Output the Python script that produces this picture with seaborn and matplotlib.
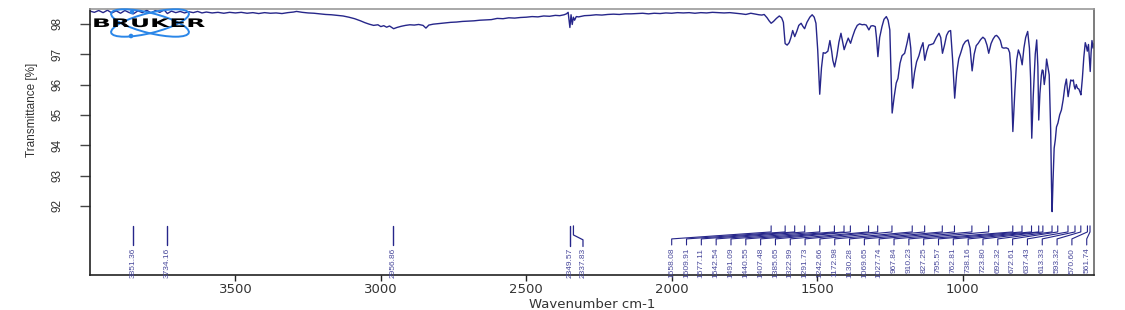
import numpy as np
import pandas as pd
import matplotlib
matplotlib.use("Agg")
import matplotlib.pyplot as plt
import seaborn as sns
from matplotlib.patches import Ellipse, Circle
from matplotlib import patheffects
from matplotlib.transforms import Affine2D

# ---------------- data ----------------
wavenumber = [
    4000, 3985, 3970, 3955, 3940, 3925, 3910, 3895, 3880, 3865, 3851, 3835, 3820, 3805, 3790,
    3775, 3760, 3745, 3734, 3720, 3705, 3690, 3675, 3660, 3645, 3630, 3615, 3600, 3580, 3560,
    3540, 3520, 3500, 3480, 3460, 3440, 3420, 3400, 3380, 3360, 3340, 3320, 3300, 3290, 3270,
    3250, 3230, 3210, 3190, 3170, 3150, 3130, 3110, 3090, 3070, 3055, 3040, 3025, 3010, 3000,
    2990, 2980, 2970, 2956, 2945, 2930, 2915, 2900, 2885, 2870, 2855, 2845, 2835, 2820, 2800,
    2780, 2760, 2740, 2720, 2700, 2680, 2660, 2640, 2620, 2600, 2580, 2560, 2540, 2520, 2500,
    2480, 2460, 2440, 2420, 2400, 2385, 2370, 2362, 2356, 2350, 2346, 2342, 2338, 2334, 2328,
    2320, 2300, 2280, 2260, 2240, 2220, 2200, 2180, 2160, 2140, 2120, 2100, 2080, 2060, 2040,
    2020, 2000, 1980, 1960, 1940, 1920, 1900, 1880, 1860, 1840, 1820, 1800, 1780, 1760, 1745,
    1728, 1712, 1700, 1690, 1682, 1672, 1665, 1658, 1650, 1640, 1630, 1622, 1616, 1610, 1603,
    1596, 1590, 1584, 1577, 1570, 1563, 1555, 1549, 1543, 1535, 1525, 1517, 1510, 1504, 1498,
    1491, 1485, 1479, 1472, 1463, 1456, 1450, 1446, 1440, 1432, 1425, 1418, 1412, 1407, 1400,
    1393, 1385, 1378, 1370, 1362, 1354, 1345, 1338, 1331, 1322, 1315, 1308, 1300, 1296, 1291,
    1285, 1277, 1270, 1262, 1256, 1250, 1242, 1235, 1228, 1222, 1215, 1208, 1199, 1190, 1184,
    1178, 1172, 1165, 1158, 1150, 1143, 1136, 1130, 1123, 1116, 1108, 1100, 1090, 1081, 1075,
    1069, 1062, 1055, 1048, 1041, 1034, 1027, 1020, 1013, 1006, 998, 990, 981, 974, 967,
    960, 953, 946, 938, 930, 923, 916, 910, 902, 895, 888, 883, 876, 870, 864,
    858, 850, 843, 838, 833, 827, 820, 814, 808, 801, 795, 789, 783, 776, 770,
    766, 762, 757, 750, 745, 741, 738, 734, 729, 726, 723, 719, 715, 711, 707,
    702, 697, 694, 692, 689, 685, 681, 677, 672, 666, 660, 654, 648, 643, 640,
    637, 633, 628, 623, 619, 616, 613, 609, 605, 600, 596, 593, 588, 583, 578,
    574, 571, 567, 564, 561, 558, 555, 551, 548,
]
transmittance = [
    98.42, 98.38, 98.44, 98.37, 98.45, 98.36, 98.43, 98.35, 98.44, 98.37, 98.33, 98.43, 98.37, 98.45, 98.36,
    98.44, 98.38, 98.46, 98.34, 98.42, 98.37, 98.41, 98.36, 98.40, 98.37, 98.41, 98.36, 98.39, 98.36, 98.38,
    98.35, 98.38, 98.36, 98.38, 98.35, 98.37, 98.34, 98.37, 98.35, 98.36, 98.34, 98.37, 98.39, 98.41, 98.38,
    98.36, 98.35, 98.33, 98.31, 98.30, 98.28, 98.26, 98.22, 98.17, 98.10, 98.04, 97.99, 97.95, 97.97, 97.91,
    97.94, 97.89, 97.93, 97.84, 97.88, 97.92, 97.95, 97.97, 97.96, 97.98, 97.95, 97.86, 97.96, 97.99, 98.01,
    98.03, 98.05, 98.06, 98.08, 98.09, 98.10, 98.12, 98.13, 98.14, 98.18, 98.17, 98.20, 98.19, 98.21, 98.22,
    98.24, 98.23, 98.26, 98.25, 98.28, 98.27, 98.30, 98.33, 98.38, 97.88, 98.30, 97.98, 98.22, 98.12, 98.24,
    98.23, 98.27, 98.28, 98.30, 98.29, 98.31, 98.32, 98.31, 98.33, 98.33, 98.34, 98.35, 98.33, 98.35, 98.34,
    98.36, 98.35, 98.37, 98.36, 98.37, 98.35, 98.37, 98.36, 98.38, 98.37, 98.36, 98.37, 98.35, 98.33, 98.31,
    98.35, 98.32, 98.30, 98.29, 98.31, 98.20, 98.10, 98.02, 98.08, 98.18, 98.26, 98.20, 98.05, 97.35, 97.30,
    97.38, 97.55, 97.78, 97.58, 97.75, 97.95, 98.02, 97.92, 97.84, 98.05, 98.22, 98.30, 98.22, 98.02, 97.15,
    95.68, 96.55, 97.05, 97.03, 97.10, 97.45, 97.10, 96.80, 96.58, 96.95, 97.40, 97.69, 97.40, 97.15, 97.35,
    97.53, 97.36, 97.58, 97.80, 97.95, 98.00, 97.97, 97.98, 97.96, 97.80, 97.93, 97.94, 97.91, 97.55, 96.92,
    97.55, 97.91, 98.15, 98.24, 98.12, 97.80, 95.06, 95.60, 96.05, 96.20, 96.70, 96.95, 97.03, 97.40, 97.69,
    97.20, 95.88, 96.40, 96.75, 96.95, 97.20, 97.38, 96.80, 97.10, 97.30, 97.32, 97.35, 97.55, 97.69, 97.55,
    97.03, 97.30, 97.62, 97.75, 97.78, 96.80, 95.55, 96.40, 96.85, 97.05, 97.30, 97.42, 97.47, 97.20, 96.45,
    97.00, 97.28, 97.36, 97.48, 97.56, 97.50, 97.30, 97.03, 97.35, 97.50, 97.60, 97.62, 97.55, 97.45, 97.22,
    97.20, 97.21, 97.18, 97.05, 96.40, 94.45, 95.80, 96.80, 97.14, 96.95, 96.65, 97.20, 97.55, 97.75, 97.20,
    96.20, 94.23, 95.60, 97.00, 97.47, 96.60, 94.83, 95.70, 96.30, 96.48, 96.46, 96.00, 96.30, 96.84, 96.60,
    96.32, 94.50, 92.60, 91.81, 92.80, 93.90, 94.18, 94.60, 94.73, 95.00, 95.16, 95.50, 95.95, 96.18, 95.90,
    95.60, 95.85, 96.15, 96.12, 96.15, 95.95, 95.85, 96.00, 95.88, 95.85, 95.75, 95.66, 96.20, 96.90, 97.38,
    97.25, 97.10, 97.32, 96.90, 96.43, 97.05, 97.45, 97.20, 97.35,
]

peaks_sparse = [3851.36, 3734.16, 2956.86, 2349.57]
peak_2337 = 2337.83
peaks_dense = [1658.08, 1609.91, 1577.11, 1542.54, 1491.09, 1440.55, 1407.48, 1385.65,
               1322.99, 1291.73, 1242.66, 1172.98, 1130.28, 1069.65, 1027.74, 967.84,
               910.23, 827.25, 795.57, 762.81, 738.16, 723.80, 692.32, 672.61, 637.43,
               613.33, 593.32, 570.60, 561.74]

x_ticks = [3500, 3000, 2500, 2000, 1500, 1000]
x_tick_labels = ["3500", "3000", "2500", "2000", "1500", "1000"]
y_ticks = [92, 93, 94, 95, 96, 97, 98]


class HStretch(patheffects.AbstractPathEffect):
    """Stretch text glyphs horizontally (text stays a Text artist)."""
    def __init__(self, sx):
        super().__init__()
        self.sx = sx

    def draw_path(self, renderer, gc, tpath, affine, rgbFace=None):
        renderer.draw_path(gc, tpath, Affine2D().scale(self.sx, 1.0) + affine, rgbFace)


# ---------------- style ----------------
sns.set_theme(style="white")
narrow = ["Liberation Sans Narrow", "Liberation Sans", "DejaVu Sans"]
plt.rcParams["font.family"] = ["DejaVu Sans"]

line_col = "#26268a"
lab_col = "#4a4a9c"

fig = plt.figure(figsize=(11.25, 3.10), dpi=100)
W, H = 1125, 310
ax = fig.add_axes([90 / W, 35 / H, 1004 / W, 266 / H])

df = pd.DataFrame({"wavenumber": wavenumber, "transmittance": transmittance})
sns.lineplot(data=df, x="wavenumber", y="transmittance", ax=ax, color=line_col,
             lw=1.0, estimator=None, sort=False)

ax.set_xlim(4000, 548)
ax.set_ylim(89.72, 98.49)

# ---------------- peak labels ----------------
y_top, y_mid1, y_mid2, y_bot, y_txt = 91.34, 91.14, 90.91, 90.71, 90.62
for p in peaks_sparse:
    bot = 90.66 if p == 2349.57 else y_bot
    ax.plot([p, p], [y_top, bot], color=line_col, lw=1.0)
    ax.text(p, y_txt, f"{p:.2f}", rotation=90, ha="center", va="top",
            fontsize=6.0, color=lab_col, family=narrow)
lx2337 = 2305
ax.plot([peak_2337, peak_2337, lx2337, lx2337], [y_top, 91.04, 90.88, 90.66],
        color=line_col, lw=0.9)
ax.text(lx2337, y_txt, f"{peak_2337:.2f}", rotation=90, ha="center", va="top",
        fontsize=6.0, color=lab_col, family=narrow)

label_pos = np.linspace(2000, 573, len(peaks_dense))
for p, lx in zip(peaks_dense, label_pos):
    ax.plot([p, p, lx, lx], [y_top, y_mid1, y_mid2, y_bot], color=line_col, lw=0.8)
    ax.text(lx, y_txt, f"{p:.2f}", rotation=90, ha="center", va="top",
            fontsize=6.0, color=lab_col, family=narrow)

# ---------------- axes styling ----------------
ax.set_xticks(x_ticks)
ax.set_xticklabels(x_tick_labels)
ax.set_yticks(y_ticks)
ax.set_yticklabels([str(v) for v in y_ticks], rotation=90, va="center",
                   family=narrow, fontsize=8.5, color="#333333")
ax.tick_params(axis="x", direction="out", length=4, width=1, color="#222222",
               labelsize=9.5, labelcolor="#333333", pad=2, bottom=True)
ax.tick_params(axis="y", direction="out", length=7, width=1, color="#444444",
               pad=12, left=True)
for lab in ax.get_xticklabels():
    lab.set_fontfamily("DejaVu Sans")

ax.set_xlabel("Wavenumber cm-1", fontsize=9.5, color="#333333", labelpad=1)
ax.set_ylabel("Transmittance [%]", fontsize=8.5, color="#333333", family=narrow)
ax.yaxis.set_label_coords(-0.052, 0.62)

ax.spines["left"].set_color("#222222")
ax.spines["bottom"].set_color("#222222")
ax.spines["top"].set_color("#999999")
ax.spines["right"].set_color("#666666")
for s in ax.spines.values():
    s.set_linewidth(1.2)
ax.grid(False)

# ---------------- Bruker logo ----------------
lax = fig.add_axes([90 / W, 1 - 40 / H, 120 / W, 34 / H])
lax.set_xlim(0, 120)
lax.set_ylim(34, 0)
lax.axis("off")
lax.patch.set_alpha(0)
logo_blue = "#2a86e8"
for ang in (14, -14):
    lax.add_patch(Ellipse((60, 17), 80, 20, angle=ang, fill=False,
                          ec=logo_blue, lw=1.4))
lax.add_patch(Circle((42, 6), 1.6, color=logo_blue))
lax.add_patch(Circle((41, 30), 1.6, color=logo_blue))
lax.text(2, 17.5, "BRUKER", ha="left", va="center", fontsize=8.5,
         fontweight="heavy", color="black", family="DejaVu Sans", zorder=5,
         path_effects=[HStretch(2.1)])

fig.savefig("out.png", dpi=100)
